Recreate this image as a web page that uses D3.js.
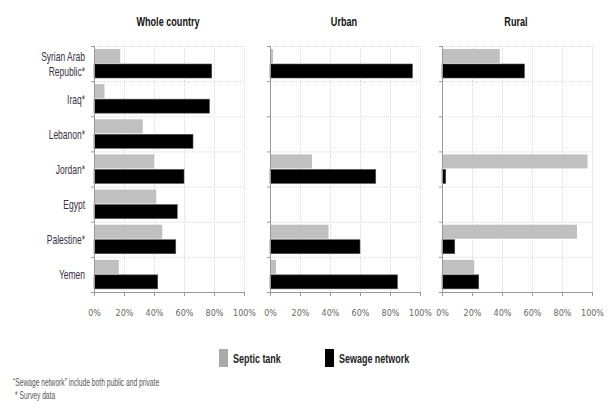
<!DOCTYPE html>
<html lang="en">
<head>
    <meta charset="UTF-8">
    <title>Septic tank vs sewage network</title>
    <script src="https://d3js.org/d3.v7.min.js"></script>
    <style>
        body { margin: 0; background: #fff; }
        svg { display: block; }
        .title { font-family: "Liberation Sans", Arial, sans-serif; font-weight: bold; font-size: 13px; fill: #111; }
        .cat { font-family: "Liberation Sans", Arial, sans-serif; font-size: 12.5px; fill: #3a2f45; }
        .tick-label { font-family: "DejaVu Sans", sans-serif; font-size: 8px; fill: #666; }
        .legend { font-family: "Liberation Sans", Arial, sans-serif; font-weight: bold; font-size: 13px; fill: #222; }
        .note { font-family: "Liberation Sans", Arial, sans-serif; font-size: 10px; fill: #555; }
    </style>
</head>
<body>
<svg id="chart" width="611" height="406"></svg>
<script>
    // categories, top to bottom
    const categories = ["Syrian Arab Republic*", "Iraq*", "Lebanon*", "Jordan*", "Egypt", "Palestine*", "Yemen"];
    const categoryLines = [["Syrian Arab", "Republic*"], ["Iraq*"], ["Lebanon*"], ["Jordan*"], ["Egypt"], ["Palestine*"], ["Yemen"]];

    // percentages per area (null = no data)
    const septicWhole  = [17.5, 7, 32.5, 40, 41.5, 45.5, 16.5];
    const sewageWhole  = [78.5, 77, 66, 60, 55.5, 54.5, 42.5];
    const septicUrban  = [2, null, null, 28, null, 39, 4];
    const sewageUrban  = [95, null, null, 70.5, null, 60, 85];
    const septicRural  = [38.5, null, null, 97, null, 90, 21.5];
    const sewageRural  = [55, null, null, 2.5, null, 8.5, 24.5];

    const panelTitles = ["Whole country", "Urban", "Rural"];
    const tickValues = [0, 20, 40, 60, 80, 100];
    const seriesNames = ["Septic tank", "Sewage network"];
    const colors = { septic: "#c0c0c0", sewage: "#000000" };

    const panels = [
        { title: panelTitles[0], x0: 94, x1: 244, septic: septicWhole, sewage: sewageWhole },
        { title: panelTitles[1], x0: 270, x1: 420, septic: septicUrban, sewage: sewageUrban },
        { title: panelTitles[2], x0: 442, x1: 592, septic: septicRural, sewage: sewageRural }
    ];

    const plotTop = 46, plotBottom = 292;
    const svg = d3.select("#chart");

    // the original uses a narrow face; squeeze a regular one horizontally
    function narrowText(parent, cls, x, y, str, anchor, sx) {
        return parent.append("text").attr("class", cls)
            .attr("transform", `translate(${x},${y}) scale(${sx},1)`)
            .attr("text-anchor", anchor || "start")
            .text(str);
    }

    const y = d3.scaleBand().domain(categories).range([plotTop, plotBottom]);
    const rowH = y.bandwidth();
    const barH = 14;

    panels.forEach((p, pi) => {
        const x = d3.scaleLinear().domain([0, 100]).range([p.x0, p.x1]);
        const g = svg.append("g");

        // title
        narrowText(g, "title", (p.x0 + p.x1) / 2 - 1, 26, p.title, "middle", 0.7);

        // vertical dotted grid
        g.selectAll(".vgrid").data(tickValues.slice(1)).enter().append("line")
            .attr("x1", d => x(d) + 0.5).attr("x2", d => x(d) + 0.5)
            .attr("y1", plotTop).attr("y2", plotBottom)
            .attr("stroke", "#dadada").attr("stroke-dasharray", "1,1");

        // horizontal dotted separators (including top)
        const seps = categories.map(c => y(c));
        g.selectAll(".hgrid").data(seps).enter().append("line")
            .attr("x1", x(0)).attr("x2", x(100))
            .attr("y1", d => d + 0.5).attr("y2", d => d + 0.5)
            .attr("stroke", "#dadada").attr("stroke-dasharray", "1,1");

        // bars
        categories.forEach((c, i) => {
            const s = p.septic[i], w = p.sewage[i];
            if (s != null) {
                g.append("rect")
                    .attr("x", x(0)).attr("y", y(c) + 3)
                    .attr("width", x(s) - x(0)).attr("height", barH)
                    .attr("fill", colors.septic);
            }
            if (w != null) {
                g.append("rect")
                    .attr("x", x(0)).attr("y", y(c) + 3 + barH + 1)
                    .attr("width", x(w) - x(0)).attr("height", barH)
                    .attr("fill", colors.sewage)
                    .attr("stroke", "#555").attr("stroke-width", 0.6);
            }
        });

        // left axis with row ticks
        const left = g.append("g");
        left.append("line").attr("x1", x(0) + 0.5).attr("x2", x(0) + 0.5)
            .attr("y1", plotTop).attr("y2", plotBottom).attr("stroke", "#999");
        left.selectAll(".ltick").data(seps.concat([plotBottom])).enter().append("line")
            .attr("x1", x(0) - 3).attr("x2", x(0))
            .attr("y1", d => d + 0.5).attr("y2", d => d + 0.5)
            .attr("stroke", "#999");

        // bottom axis
        const axis = d3.axisBottom(x).tickValues(tickValues).tickSize(4).tickSizeOuter(0).tickFormat(d => d + "%");
        const ax = g.append("g").attr("transform", `translate(0,${plotBottom})`).call(axis);
        ax.attr("font-size", null).attr("font-family", null);
        ax.select(".domain").attr("stroke", "#999");
        ax.selectAll(".tick line").attr("stroke", "#999");
        ax.selectAll(".tick text").attr("class", "tick-label").attr("y", 18).attr("fill", null);

        // category labels, only on the first panel
        if (pi === 0) {
            categories.forEach((c, i) => {
                const lines = categoryLines[i];
                const cy = y(c) + rowH / 2;
                lines.forEach((ln, k) => {
                    narrowText(svg, "cat", 85, cy + 5 + (k - (lines.length - 1) / 2) * 15, ln, "end", 0.68);
                });
            });
        }
    });

    // legend
    const legendItems = [
        { name: seriesNames[0], color: "#aaaaaa", x: 219 },
        { name: seriesNames[1], color: colors.sewage, x: 325 }
    ];
    legendItems.forEach(d => {
        svg.append("rect").attr("x", d.x).attr("y", 349).attr("width", 9).attr("height", 18).attr("fill", d.color);
        narrowText(svg, "legend", d.x + 14, 363, d.name, "start", 0.69);
    });

    // notes
    narrowText(svg, "note", 13, 386, "\u201cSewage network\u201d include both public and private", "start", 0.67);
    narrowText(svg, "note", 15, 399, "* Survey data", "start", 0.67);
</script>
</body>
</html>
